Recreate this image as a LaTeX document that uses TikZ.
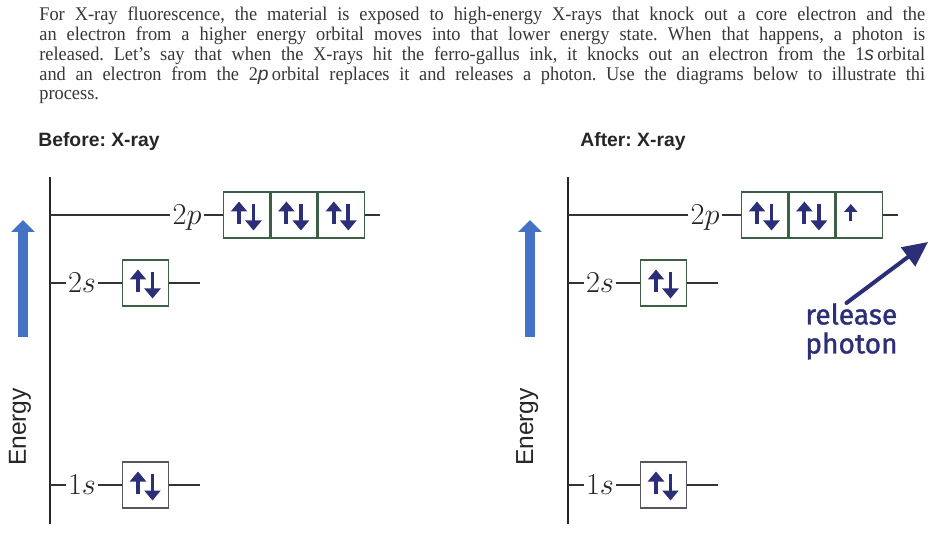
\documentclass[tikz,border=0pt]{standalone}
\usepackage{fontspec}
\setmainfont[FakeStretch=0.95]{Liberation Serif}
\setsansfont{Liberation Sans}
\newfontfamily\handfont[FakeBold=1.2]{Fira Sans}
\usetikzlibrary{positioning,arrows.meta,calc}
\definecolor{inkgray}{RGB}{55,55,55}
\definecolor{barblue}{RGB}{68,114,196}
\definecolor{boxgreen}{RGB}{60,95,70}
\definecolor{boxgray}{RGB}{90,85,95}
\definecolor{spinblue}{RGB}{45,46,120}
\frenchspacing

% a paired up/down electron inside an orbital box
\newcommand{\spinpair}[1]{%
  \draw[spin] ([xshift=-0.15cm,yshift=-0.18cm]#1.center) -- ([xshift=-0.15cm,yshift=0.27cm]#1.center);
  \draw[spin] ([xshift=0.14cm,yshift=0.22cm]#1.center) -- ([xshift=0.14cm,yshift=-0.31cm]#1.center);}

\begin{document}
\begin{tikzpicture}[
  x=0.02cm, y=-0.02cm,
  every node/.style={inner sep=0pt},
  txt/.style={anchor=base west, font=\fontsize{11}{13}\selectfont, text=inkgray},
  head/.style={anchor=base west, font=\sffamily\bfseries\fontsize{11}{13}\selectfont, text=black!85},
  axisline/.style={draw=black!85, line width=1pt},
  lvl/.style={draw=black!80, line width=0.7pt},
  lbl/.style={font=\fontsize{17}{20}\selectfont, text=black!85, inner sep=1pt,
              text height=0.385cm, text depth=0pt},
  orb/.style={draw=boxgreen, line width=0.8pt, minimum size=0.92cm},
  spin/.style={draw=spinblue, line width=2.2pt, -{Triangle[length=0.2cm,width=0.32cm]}},
  bar/.style={draw=barblue, line width=0.2cm, -{Triangle[length=0.24cm,width=0.46cm]}},
  energy/.style={rotate=90, anchor=base, font=\sffamily\fontsize{14}{16}\selectfont, text=black!85},
  hand/.style={anchor=north west, align=left, text=spinblue,
               font=\handfont\fontsize{16}{16.5}\selectfont},
  photon/.style={draw=spinblue, line width=0.08cm, line cap=round,
                 -{Triangle[length=0.5cm,width=0.46cm]}}
]
  \clip (0,0) rectangle (932,536);

  % question text
  \node[txt] (l1) at (39,21) {\makebox[17.72cm][s]{For X-ray fluorescence, the material is exposed to high-energy X-rays that knock out a core electron and the}};
  \node[txt] (l2) at (39,41) {\makebox[17.72cm][s]{an electron from a higher energy orbital moves into that lower energy state. When that happens, a photon is}};
  \node[txt] (l3) at (39,61) {\makebox[17.72cm][s]{released. Let's say that when the X-rays hit the ferro-gallus ink, it knocks out an electron from the 1\textit{\sffamily s}\,orbital}};
  \node[txt] (l4) at (39,81) {\makebox[17.72cm][s]{and an electron from the 2\textit{\sffamily p}\,orbital replaces it and releases a photon. Use the diagrams below to illustrate thi}};
  \node[txt] (l5) at (39,100) {process.};
  \node[head] (before) at (38,147) {Before: X-ray};
  \node[head] (after) at (580,147) {After: X-ray};

  % the two energy diagrams
  \foreach \s/\dx/\bx in {b/0/23,a/518/12}{
    \begin{scope}[xshift=\dx*0.02cm]
      \coordinate (\s-top) at (50,177);
      \coordinate (\s-bot) at (50,524);
      \draw[axisline] (\s-top) -- (\s-bot);

      \coordinate (\s-bar0) at (\bx,337);
      \coordinate (\s-bar1) at (\bx,220);
      \draw[bar] (\s-bar0) -- (\s-bar1);
      \node[energy] (\s-en) at (\bx+3,427) {Energy};

      % 2p
      \coordinate (\s-a2p) at (50,215);
      \node[lbl] (\s-2p) at (187,215) {$2p$};
      \node[orb] (\s-p1) at (246.5,215) {};
      \node[orb, right=0pt of \s-p1] (\s-p2) {};
      \node[orb, right=0pt of \s-p2] (\s-p3) {};
      \coordinate (\s-e2p) at (380,215);
      \draw[lvl] (\s-a2p) -- (\s-2p) -- (\s-p1) (\s-p3) -- (\s-e2p);

      % 2s
      \coordinate (\s-a2s) at (50,283);
      \node[lbl] (\s-2s) at (82,283) {$2s$};
      \node[orb] (\s-s2) at (145.5,283) {};
      \coordinate (\s-e2s) at (200,283);
      \draw[lvl] (\s-a2s) -- (\s-2s) -- (\s-s2) -- (\s-e2s);

      % 1s
      \coordinate (\s-a1s) at (50,485);
      \node[lbl] (\s-1s) at (82,485) {$1s$};
      \node[orb, draw=boxgray] (\s-s1) at (145.5,485) {};
      \coordinate (\s-e1s) at (200,485);
      \draw[lvl] (\s-a1s) -- (\s-1s) -- (\s-s1) -- (\s-e1s);

      \spinpair{\s-p1}
      \spinpair{\s-p2}
      \spinpair{\s-s2}
      \spinpair{\s-s1}
    \end{scope}
  }

  % third 2p box: full before, one electron after
  \spinpair{b-p3}
  \draw[spin, line width=1.8pt, -{Triangle[length=0.16cm,width=0.26cm]}]
    ([xshift=-0.17cm,yshift=-0.12cm]a-p3.center) -- ([xshift=-0.17cm,yshift=0.22cm]a-p3.center);

  % handwritten note
  \node[hand] (rel) at (805,303) {release\\photon};
  \coordinate (ph-tip) at (928,242);
  \draw[photon] ([xshift=-0.1cm]rel.north) -- (ph-tip);
\end{tikzpicture}
\end{document}
